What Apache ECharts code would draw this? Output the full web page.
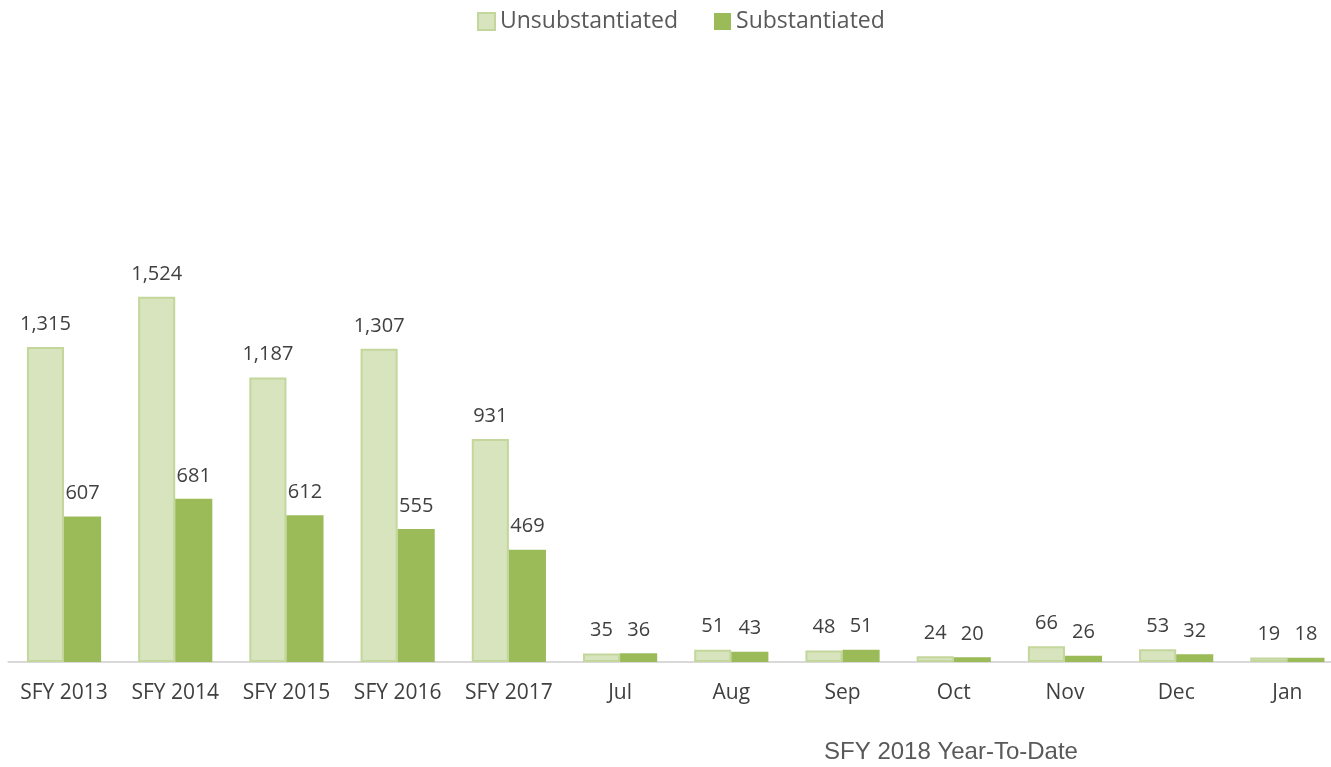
<!DOCTYPE html>
<html>
<head>
<meta charset="utf-8">
<script src="https://cdn.jsdelivr.net/npm/echarts@6/dist/echarts.min.js"></script>
<style>
  html, body { margin: 0; padding: 0; background: #fff; overflow: hidden; }
  /* chart runs a little past the right edge, like the original */
  #chart { width: 1343px; height: 767px; }
</style>
</head>
<body>
<div id="chart"></div>
<script>
const categories = ["SFY 2013", "SFY 2014", "SFY 2015", "SFY 2016", "SFY 2017", "Jul", "Aug", "Sep", "Oct", "Nov", "Dec", "Jan"];
const unsubstantiated = [1315, 1524, 1187, 1307, 931, 35, 51, 48, 24, 66, 53, 19];
const substantiated = [607, 681, 612, 555, 469, 36, 43, 51, 20, 26, 32, 18];

const chart = echarts.init(document.getElementById("chart"));

const fmt = p => p.value.toLocaleString("en-US");
const labelStyle = {
  show: true,
  position: "top",
  distance: 13,
  fontFamily: "Open Sans",
  fontSize: 20,
  color: "#404040",
  formatter: fmt
};

const option = {
  animation: false,
  legend: {
    top: 5,
    left: 472,
    itemWidth: 17,
    itemHeight: 17,
    itemGap: 36,
    icon: "rect",
    textStyle: { fontFamily: "Open Sans", fontSize: 23, color: "#595959" },
    data: ["Unsubstantiated", "Substantiated"]
  },
  grid: { left: 8.4, right: 0, top: 63, bottom: 105 },
  xAxis: {
    type: "category",
    data: categories,
    axisTick: { show: false },
    axisLine: { lineStyle: { color: "#d9d9d9", width: 2 } },
    axisLabel: { interval: 0, fontFamily: "Open Sans", fontSize: 21, color: "#404040", margin: 21 }
  },
  yAxis: {
    type: "value",
    min: 0,
    max: 2500,
    show: false,
    splitLine: { show: false }
  },
  graphic: [{
    type: "text",
    x: 951,
    y: 752,
    style: {
      text: "SFY 2018 Year-To-Date",
      font: "24px 'Liberation Sans'",
      fill: "#595959",
      align: "center",
      verticalAlign: "middle",
      textAlign: "center",
      textVerticalAlign: "middle"
    }
  }],
  series: [
    {
      name: "Unsubstantiated",
      type: "bar",
      data: unsubstantiated,
      barGap: "0%",
      barCategoryGap: "33.3%",
      itemStyle: { color: "#d7e4bd", borderColor: "#c3d69b", borderWidth: 2 },
      label: labelStyle
    },
    {
      name: "Substantiated",
      type: "bar",
      data: substantiated,
      itemStyle: { color: "#9bbb59" },
      label: labelStyle
    }
  ]
};
chart.setOption(option);
</script>
</body>
</html>
